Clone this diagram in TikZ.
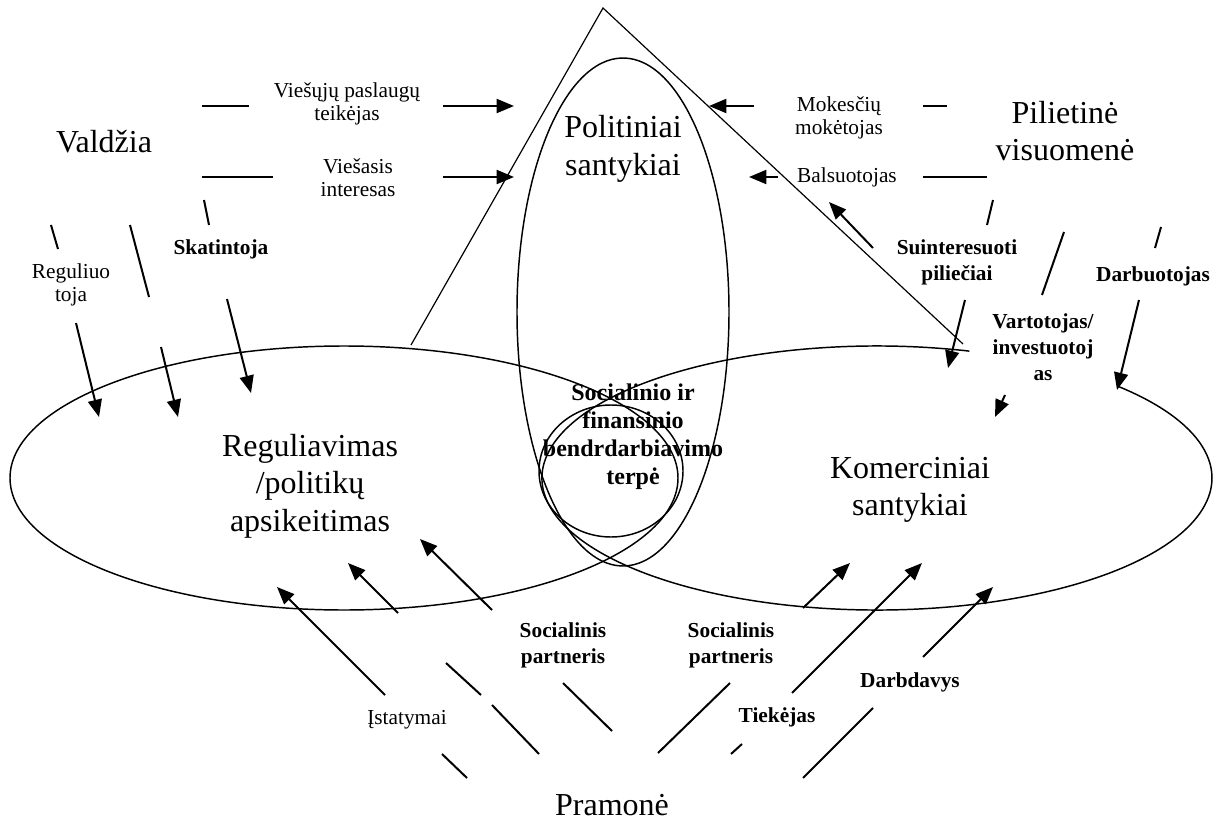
\documentclass[tikz,border=0pt]{standalone}
\usepackage{fontspec}
\setmainfont{Liberation Serif}
\usetikzlibrary{arrows.meta}

\begin{document}
\begin{tikzpicture}[x=0.75pt,y=-0.75pt,
	seg/.style={line width=1.5pt},
	arr/.style={line width=1.5pt,-{Triangle[length=13pt,width=10.5pt]}},
	ring/.style={line width=1.1pt},
	big/.style={font=\fontsize{24}{28}\selectfont,align=center,inner sep=0pt},
	small/.style={font=\fontsize{16}{17.5}\selectfont,align=center,inner sep=0pt},
	role/.style={font=\fontsize{16}{19.5}\selectfont\bfseries,align=center,inner sep=0pt}]
	\newcommand\elry{132};
	\newcommand\elrx{334};

	\useasboundingbox (0,0) rectangle (1222,821);

	% the three fields and the common ground
	\draw[ring] (344,478) ellipse [x radius=\elrx, y radius=\elry];
	\draw[ring] (877,478) ++(-74:335 and \elry)
		arc[start angle=-74, end angle=-404, x radius=335, y radius=\elry];
	\draw[ring] (623,312) ellipse [x radius=106, y radius=254];
	\draw[ring] (611,471) ellipse [x radius=72, y radius=66];

	\coordinate (apex) at (603,8);
	\draw[line width=0.9pt] (411,345) -- (apex) -- (963,344);

	% actors
	\node[big] (valdzia) at (104,142) {Valdžia};
	\node[big] (pilietine) at (1065,131) {Pilietinė\\visuomenė};
	\node[big] (pramone) at (612,805) {Pramonė};
	\node[big] (politika) at (623,149) {Politiniai\\santykiai};
	\node[big] (reguliavimas) at (310,486) {Reguliavimas\\/politikų\\apsikeitimas};
	\node[big] (komercija) at (910,490) {Komerciniai\\santykiai};
	\node[font=\fontsize{18}{21}\selectfont\bfseries,align=center,inner sep=0pt]
		(terpe) at (633,437) {Socialinio ir\\finansinio\\bendrdarbiavimo\\terpė};

	% roles
	\node[small] (teikejas) at (347,104) {Viešųjų paslaugų\\teikėjas};
	\node[small] (interesas) at (358,178) {Viešasis\\interesas};
	\node[small] (mokescius) at (839,118) {Mokesčių\\mokėtojas};
	\node[small] (balsuotojas) at (847,177) {Balsuotojas};
	\node[small] (reguliuotoja) at (71,285) {Reguliuo\\toja};
	\node[small] (istatymai) at (407,720) {Įstatymai};
	\node[role] (skatintoja) at (221,249) {Skatintoja};
	\node[role] (suinteresuoti) at (957,262) {Suinteresuoti\\piliečiai};
	\node[role] (darbuotojas) at (1153,276) {Darbuotojas};
	\node[role] (vartotojas) at (1043,347) {Vartotojas/\\investuotoj\\as};
	\node[role] (partnerisL) at (563,645) {Socialinis\\partneris};
	\node[role] (partnerisR) at (731,645) {Socialinis\\partneris};
	\node[role] (tiekejas) at (777,717) {Tiekėjas};
	\node[role] (darbdavys) at (910,682) {Darbdavys};

	% broken lines
	\foreach \xa/\ya/\xb/\yb in {202/106/249/106, 202/177/273/177, 204/200/209/225,
		51/225/58/249, 130/225/149/297, 923/106/947/106, 923/177/987/177,
		993/200/987/225, 1064/232/1042/295, 1161/227/1155/248,
		446/663/481/695, 492/705/539/754, 563/683/612/731, 442/754/467/778,
		658/753/730/683, 731/754/742/744, 803/778/873/708} {
		\draw[seg] (\xa,\ya) -- (\xb,\yb);
	}
	\foreach \xa/\ya/\xb/\yb in {443/106/514/106, 443/177/514/177, 76/323/99/417,
		161/347/178/417, 227/299/251/393, 754/106/709/106, 778/177/749/177,
		873/248/829/202, 965/300/948/368, 1139/300/1117/390, 1005/395/995/417,
		385/695/277/587, 398/613/348/563, 492/610/420/539,
		803/608/850/563, 792/693/922/563, 923/657/993/587} {
		\draw[arr] (\xa,\ya) -- (\xb,\yb);
	}
\end{tikzpicture}
\end{document}
